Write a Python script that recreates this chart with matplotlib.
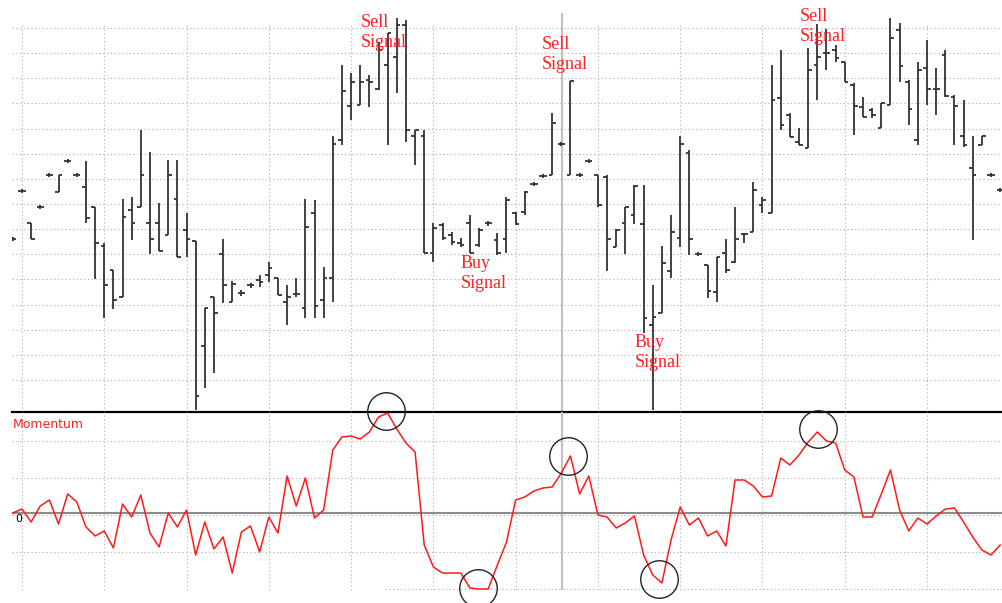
import numpy as np
import matplotlib
matplotlib.use("Agg")
import matplotlib.pyplot as plt

# bar index -1 .. 107 (one value per trading day)
days = np.arange(-1, 108)

high = [36.3, 41.1, 37.7, 39.5, 42.7, 42.5, 44.1, 42.7, 43.9, 39.3, 35.7,
        33.0, 40.1, 40.3, 47.0, 44.8, 39.7, 44.0, 44.0, 38.7, 35.9,
        29.2, 30.3, 36.1, 31.9, 31.0, 31.7, 32.5, 33.8, 32.2, 31.5,
        32.2, 40.1, 40.0, 33.3, 46.4, 53.5, 52.7, 53.5, 52.5, 55.8,
        56.7, 58.2, 58.0, 47.0, 47.0, 37.7, 37.7, 36.8, 36.2, 38.5,
        37.2, 37.9, 36.7, 40.3, 38.8, 40.9, 41.8, 42.6, 48.7, 45.8,
        51.9, 42.7, 44.1, 42.5, 42.5, 37.1, 39.3, 41.5, 41.5, 31.5,
        35.4, 38.5, 46.4, 45.0, 34.8, 33.5, 34.3, 36.1, 39.3, 36.7,
        41.8, 40.3, 53.5, 55.0, 48.7, 47.2, 55.2, 57.6, 57.1, 55.5,
        53.8, 51.7, 50.3, 49.2, 49.7, 58.2, 57.7, 52.0, 53.8, 56.0,
        53.2, 55.0, 50.5, 50.0, 46.4, 46.4, 42.7, 41.2]
low = [35.9, 40.7, 36.1, 39.1, 42.3, 40.8, 43.7, 42.3, 37.7, 32.1, 28.2,
       29.1, 30.3, 36.0, 39.3, 34.6, 34.9, 36.5, 34.3, 34.3, 19.0,
       21.2, 22.7, 29.7, 29.8, 30.4, 31.2, 31.3, 31.8, 30.5, 27.5,
       30.3, 28.2, 28.2, 28.2, 29.8, 45.5, 48.0, 49.5, 49.3, 51.0,
       45.5, 50.7, 45.8, 43.5, 34.7, 33.8, 36.0, 35.5, 35.3, 34.7,
       35.3, 37.4, 34.5, 34.7, 37.5, 38.5, 41.4, 42.2, 42.5, 45.4,
       42.5, 42.3, 43.7, 39.3, 32.9, 35.3, 34.6, 37.6, 26.7, 19.0,
       28.7, 32.2, 35.3, 34.5, 34.4, 30.2, 29.8, 32.7, 33.7, 35.7,
       36.8, 38.7, 38.7, 47.0, 46.3, 45.5, 45.2, 50.0, 53.0, 53.8,
       51.8, 46.5, 48.3, 48.2, 47.2, 49.5, 51.8, 47.5, 45.5, 49.5,
       48.5, 50.3, 45.5, 45.3, 36.0, 45.5, 42.3, 40.8]
opens = [36.1, 40.9, 37.7, 39.3, 42.5, 40.8, 43.9, 42.5, 41.3, 39.3, 35.4,
         33.0, 30.3, 39.0, 39.3, 37.7, 37.7, 36.5, 40.1, 37.0, 35.9,
         25.4, 30.3, 34.6, 29.8, 30.7, 31.5, 32.0, 32.5, 32.2, 29.8,
         30.6, 29.2, 38.7, 30.0, 32.2, 46.0, 49.4, 49.5, 52.0, 51.1,
         53.5, 54.3, 57.5, 46.4, 46.4, 34.7, 37.5, 36.5, 35.7, 37.7,
         35.5, 37.7, 36.0, 36.1, 38.7, 38.8, 41.6, 42.4, 42.5, 45.6,
         42.5, 42.5, 43.9, 42.5, 42.3, 35.3, 37.7, 38.5, 37.6, 27.5,
         28.7, 32.9, 36.2, 44.7, 34.6, 33.5, 30.8, 34.7, 33.8, 36.6,
         36.8, 39.5, 38.7, 50.2, 48.5, 45.8, 45.2, 53.5, 54.7, 55.0,
         53.8, 51.5, 49.3, 49.0, 47.2, 49.5, 57.0, 51.8, 46.0, 53.2,
         51.1, 54.5, 50.3, 46.4, 43.2, 45.5, 42.5, 41.0]
close = [36.1, 40.9, 36.1, 39.3, 42.5, 42.5, 43.9, 42.5, 38.2, 35.7, 31.5,
         30.0, 38.3, 37.7, 42.5, 36.1, 34.9, 42.5, 34.3, 36.1, 20.4,
         29.2, 28.7, 31.5, 31.6, 30.7, 31.5, 31.8, 33.2, 30.5, 30.3,
         30.6, 37.3, 29.4, 32.2, 45.6, 50.9, 51.8, 51.8, 51.8, 55.0,
         56.7, 57.5, 47.0, 47.0, 34.7, 37.2, 36.2, 35.8, 35.5, 34.7,
         37.0, 37.7, 34.7, 40.0, 37.6, 40.8, 41.6, 42.4, 47.7, 45.6,
         51.9, 42.5, 43.9, 39.5, 36.1, 37.0, 39.3, 41.4, 28.2, 28.3,
         33.7, 36.8, 45.6, 36.1, 34.6, 30.9, 34.3, 33.0, 36.1, 36.6,
         41.0, 40.0, 50.0, 47.5, 46.3, 45.5, 53.0, 54.3, 54.7, 54.2,
         51.8, 49.4, 48.3, 48.5, 49.7, 56.2, 53.4, 49.1, 53.0, 51.1,
         51.1, 50.4, 49.4, 45.5, 42.5, 46.4, 42.5, 41.0]

momentum = [0.0, 0.4, -0.9, 0.7, 1.3, -1.1, 1.9, 1.1, -1.4, -2.3, -1.8,
            -3.5, 0.9, -0.4, 1.8, -2.0, -3.4, 0.0, -1.4, 0.3, -4.2,
            -0.9, -3.6, -2.4, -6.0, -1.9, -1.3, -3.9, -0.4, -2.0, 3.7,
            0.7, 3.5, -0.5, 0.3, 6.3, 7.6, 7.7, 7.4, 8.1, 9.6,
            10.0, 8.4, 7.0, 6.1, -3.2, -5.4, -6.0, -6.0, -6.0, -7.5,
            -7.6, -7.6, -5.2, -2.9, 1.3, 1.6, 2.2, 2.5, 2.6, 4.0,
            5.7, 1.9, 3.7, -0.2, -0.4, -1.5, -1.0, -0.3, -4.2, -6.2,
            -7.0, -2.7, 0.6, -1.2, -0.5, -2.3, -1.8, -3.3, 3.3, 3.3,
            2.7, 1.6, 1.7, 5.5, 4.8, 5.8, 7.1, 8.1, 7.2, 7.0,
            4.3, 3.6, -0.4, -0.4, 1.9, 4.3, 0.3, -1.8, -0.5, -1.1,
            -0.3, 0.4, 0.5, -0.9, -2.4, -3.7, -4.2, -3.2]

# circled turning points of the momentum line
circle_day = [39.8, 49.9, 59.7, 69.7, 87.1]
circle_mom = [10.2, -7.5, 5.7, -6.6, 8.4]

# signal labels: (text, day, price)
signals = [("Sell\nSignal", 37.1, 58.6),
           ("Sell\nSignal", 56.9, 56.4),
           ("Buy\nSignal", 48.0, 34.5),
           ("Buy\nSignal", 67.0, 26.6),
           ("Sell\nSignal", 85.1, 59.2)]

price_lo, price_hi = 18.8, 60.0
mom_lo, mom_hi = -7.7, 10.1
x_lo, x_hi = -1.09, 107.2
grid_days = np.arange(0, 100, 9)
cursor_day = 59.1

fig = plt.figure(figsize=(10.02, 6.03), dpi=100)
ax1 = fig.add_axes([12 / 1002, 191 / 603, 990 / 1002, 412 / 603])
ax2 = fig.add_axes([12 / 1002, 13 / 603, 990 / 1002, 178 / 603])

grid_kw = dict(color="#b8b8b8", lw=0.8, linestyles=(0, (1.2, 2.2)), zorder=0)

# ---- price pane ----
ax1.hlines(np.linspace(22.0, 57.2, 15), x_lo, x_hi, **grid_kw)
ax1.vlines(grid_days, price_lo, 57.6, **grid_kw)
ax1.axvline(cursor_day, ymax=0.966, color="#c0c0c0", lw=1.5, zorder=1)

bar_col = "#333333"
ax1.vlines(days, low, high, color=bar_col, lw=1.3, zorder=3)
ax1.hlines(opens, days - 0.4, days, color=bar_col, lw=1.3, zorder=3)
ax1.hlines(close, days, days + 0.4, color=bar_col, lw=1.3, zorder=3)

for txt, d, p in signals:
    ax1.text(d, p, txt, color="#ff2020", fontsize=13, va="top", ha="left",
             family=["Liberation Serif", "DejaVu Serif"], linespacing=1.22,
             zorder=5)

ax1.axhline(price_lo, color="black", lw=1.6, clip_on=False, zorder=4)
ax1.set_xlim(x_lo, x_hi)
ax1.set_ylim(price_lo, price_hi)
ax1.axis("off")

# ---- momentum pane ----
mom_grid = np.linspace(-7.6, 7.2, 5)
ax2.hlines(mom_grid[1:], x_lo, x_hi, **grid_kw)
ax2.hlines(mom_grid[0], 39.7, x_hi, **grid_kw)
ax2.vlines(grid_days, mom_lo, mom_hi, **grid_kw)
ax2.axvline(cursor_day, color="#c0c0c0", lw=1.5, zorder=1)
ax2.axhline(0, color="#8c8c8c", lw=1.5, zorder=2)

ax2.plot(days, momentum, color="#ff1a1a", lw=1.1, zorder=3)
ax2.plot(circle_day, circle_mom, "o", ms=27, mfc="none", mec="#222222",
         mew=1.0, clip_on=False, zorder=4)

ax2.text(0.001, 0.965, "Momentum", transform=ax2.transAxes, color="#ff2020",
         fontsize=9, va="top", ha="left")
ax2.text(0.003, 0.425, "0", transform=ax2.transAxes, color="black",
         fontsize=8, va="top", ha="left")

ax2.set_xlim(x_lo, x_hi)
ax2.set_ylim(mom_lo, mom_hi)
ax2.axis("off")

fig.savefig("out.png", dpi=100)
